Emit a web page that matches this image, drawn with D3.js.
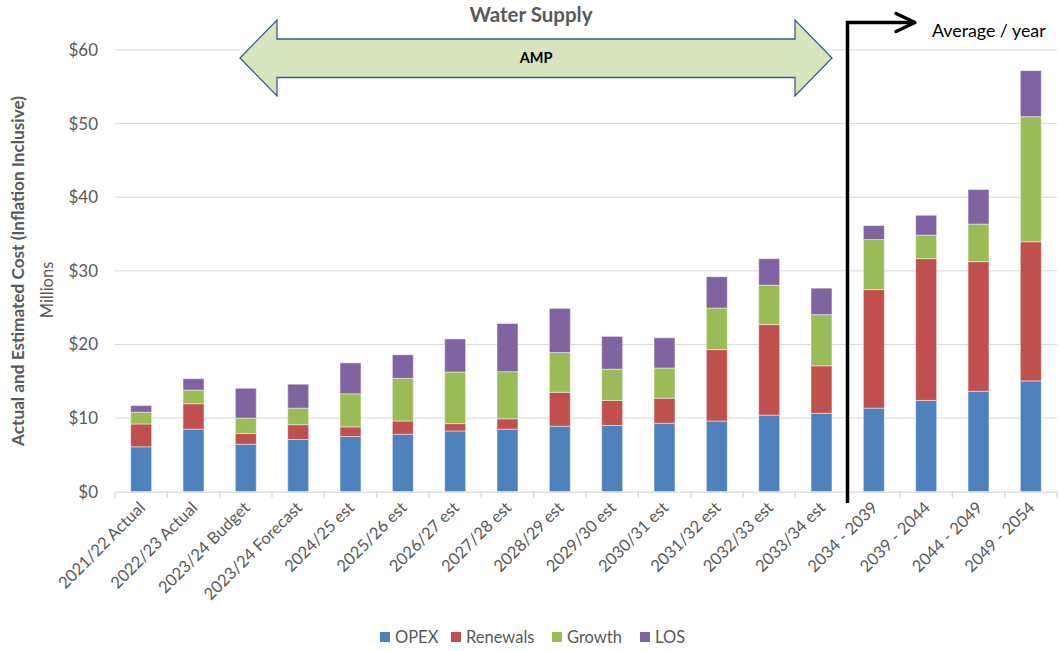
<!DOCTYPE html>
<html>
<head>
<meta charset="utf-8">
<script src="https://cdn.jsdelivr.net/npm/d3@7/dist/d3.min.js"></script>
<style>
  html, body { margin: 0; padding: 0; background: #fff; }
  svg { display: block; font-family: Lato, "Open Sans", sans-serif; }
</style>
</head>
<body>
<svg id="chart" width="1059" height="651"></svg>
<script>
const categories = ["2021/22 Actual","2022/23 Actual","2023/24 Budget","2023/24 Forecast","2024/25 est","2025/26 est","2026/27 est","2027/28 est","2028/29 est","2029/30 est","2030/31 est","2031/32 est","2032/33 est","2033/34 est","2034 - 2039","2039 - 2044","2044 - 2049","2049 - 2054"];
const opex     = [6.1, 8.5, 6.45, 7.1, 7.5, 7.8, 8.25, 8.5, 8.9, 9.0, 9.3, 9.6, 10.4, 10.65, 11.35, 12.4, 13.65, 15.05];
const renewals = [3.1, 3.45, 1.45, 2.0, 1.3, 1.8, 1.0, 1.4, 4.6, 3.4, 3.4, 9.7, 12.3, 6.45, 16.1, 19.25, 17.6, 18.9];
const growth   = [1.6, 1.85, 2.1, 2.25, 4.5, 5.8, 7.0, 6.4, 5.4, 4.25, 4.1, 5.65, 5.35, 6.95, 6.8, 3.2, 5.1, 17.0];
const los      = [0.9, 1.55, 4.05, 3.25, 4.2, 3.2, 4.5, 6.55, 6.0, 4.45, 4.1, 4.25, 3.6, 3.6, 1.9, 2.7, 4.7, 6.25];
const seriesNames = ["OPEX","Renewals","Growth","LOS"];
const colors = ["#4F81BD","#C0504D","#9BBB59","#8064A2"];
const yTicks = [0,10,20,30,40,50,60];

(function () {
const svg = d3.select("#chart");
const pLeft = 115, pRight = 1057, pTop = 50, pBottom = 491.7;

const x = d3.scaleBand().domain(categories).range([pLeft, pRight]).paddingInner(0.6).paddingOuter(0.3);
const y = d3.scaleLinear().domain([0, 60]).range([pBottom, pTop]);

// gridlines
svg.append("g").selectAll("line").data(yTicks.filter(d => d > 0)).join("line")
  .attr("x1", pLeft).attr("x2", pRight)
  .attr("y1", d => y(d)).attr("y2", d => y(d))
  .attr("stroke", "#D9D9D9").attr("stroke-width", 1);

// y tick labels
const yAxis = svg.append("g").attr("transform", `translate(${pLeft},0)`)
  .call(d3.axisLeft(y).tickValues(yTicks).tickFormat(d => "$" + d).tickSize(0).tickPadding(17));
yAxis.select(".domain").remove();
yAxis.selectAll("text").attr("font-size", 17).attr("fill", "#595959").attr("font-family", "Lato, sans-serif");

// stacked bars
const rows = categories.map((c, i) => ({cat: c, OPEX: opex[i], Renewals: renewals[i], Growth: growth[i], LOS: los[i]}));
const stacked = d3.stack().keys(seriesNames)(rows);
svg.append("g").selectAll("g").data(stacked).join("g")
  .attr("fill", (d, i) => colors[i])
  .selectAll("rect").data(d => d).join("rect")
  .attr("x", d => x(d.data.cat))
  .attr("width", x.bandwidth())
  .attr("y", d => y(d[1]))
  .attr("height", d => y(d[0]) - y(d[1]))
  .attr("stroke", "rgba(255,255,255,0.45)").attr("stroke-width", 1);

// x axis line & ticks
svg.append("line").attr("x1", pLeft).attr("x2", pRight).attr("y1", pBottom + 0.5).attr("y2", pBottom + 0.5)
  .attr("stroke", "#D9D9D9").attr("stroke-width", 1.3);
const bounds = d3.range(categories.length + 1).map(i => pLeft + i * (pRight - pLeft) / categories.length);
svg.append("g").selectAll("line").data(bounds).join("line")
  .attr("x1", d => d).attr("x2", d => d).attr("y1", pBottom).attr("y2", pBottom + 6)
  .attr("stroke", "#D9D9D9").attr("stroke-width", 1.3);

// x labels
svg.append("g").selectAll("text").data(categories).join("text")
  .attr("transform", d => `translate(${x(d) + x.bandwidth()/2 + 5},${pBottom + 17}) rotate(-45)`)
  .attr("text-anchor", "end")
  .attr("font-size", 16.5).attr("fill", "#595959")
  .text(d => d);

// y axis titles
svg.append("text").attr("transform", `translate(24,271) rotate(-90)`)
  .attr("text-anchor", "middle").attr("font-size", 17.2).attr("font-weight", "bold").attr("fill", "#595959")
  .text("Actual and Estimated Cost (Inflation Inclusive)");
svg.append("text").attr("transform", `translate(53,290) rotate(-90)`)
  .attr("text-anchor", "middle").attr("font-size", 16.5).attr("fill", "#595959")
  .text("Millions");

// title
svg.append("text").attr("x", 531).attr("y", 22).attr("text-anchor", "middle")
  .attr("font-size", 20.5).attr("font-weight", "bold").attr("fill", "#595959").text("Water Supply");

// double arrow AMP
const ax0 = 240, ax1 = 832, ah = 37, ay = 58;
const arrowPts = [
  [ax0, ay], [ax0 + ah, 20], [ax0 + ah, 39], [ax1 - ah, 39], [ax1 - ah, 20], [ax1, ay],
  [ax1 - ah, 96], [ax1 - ah, 77.5], [ax0 + ah, 77.5], [ax0 + ah, 96]
];
svg.append("polygon").attr("points", arrowPts.map(p => p.join(",")).join(" "))
  .attr("fill", "#D7E4BD").attr("stroke", "#385D8A").attr("stroke-width", 1.3);
svg.append("text").attr("x", 536).attr("y", 63).attr("text-anchor", "middle")
  .attr("font-size", 14.5).attr("font-weight", "bold").attr("fill", "#000").text("AMP");

// bent arrow for averages
svg.append("path").attr("d", "M847.5,503 L847.5,22.5 L913,22.5")
  .attr("fill", "none").attr("stroke", "#000").attr("stroke-width", 3.5).attr("stroke-linejoin", "miter");
svg.append("path").attr("d", "M896,13.5 L915,22.5 L896,31.5")
  .attr("fill", "none").attr("stroke", "#000").attr("stroke-width", 3.5).attr("stroke-linecap", "round").attr("stroke-linejoin", "round");
svg.append("text").attr("x", 932).attr("y", 37).attr("font-size", 17.8).attr("fill", "#000").text("Average / year");

// legend
const legendX = [380, 451, 552, 640];
const lg = svg.append("g").selectAll("g").data(seriesNames).join("g")
  .attr("transform", (d, i) => `translate(${legendX[i]},632)`);
lg.append("rect").attr("width", 10).attr("height", 10).attr("fill", (d, i) => colors[i]);
lg.append("text").attr("x", 15).attr("y", 10.5).attr("font-size", 16.5).attr("fill", "#595959").text(d => d);
})();
</script>
</body>
</html>
